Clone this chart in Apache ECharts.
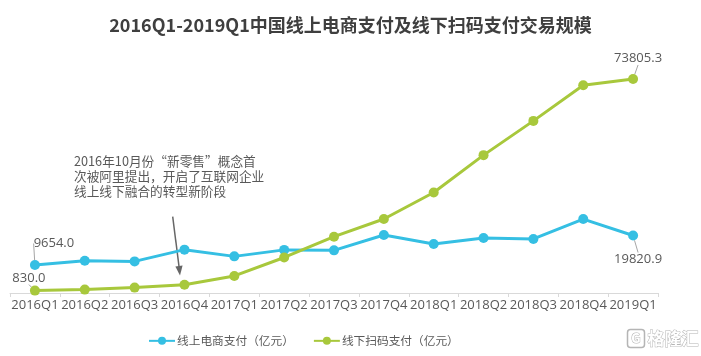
<!DOCTYPE html>
<html>
<head>
<meta charset="utf-8">
<script src="https://cdn.jsdelivr.net/npm/echarts@6/dist/echarts.min.js"></script>
<style>
html,body{margin:0;padding:0;background:#fff;}
#main{width:701px;height:356px;}
</style>
</head>
<body>
<div id="main"></div>
<script>
var categories = ['2016Q1','2016Q2','2016Q3','2016Q4','2017Q1','2017Q2','2017Q3','2017Q4','2018Q1','2018Q2','2018Q3','2018Q4','2019Q1'];
var onlineName = '线上电商支付（亿元）';
var offlineName = '线下扫码支付（亿元）';
var onlineValues = [9654.0, 11150, 10900, 14950, 12630, 14870, 14700, 20000, 16900, 18970, 18650, 25500, 19820.9];
var offlineValues = [830.0, 1170, 1860, 2820, 5890, 12250, 19420, 25510, 34660, 47540, 59350, 71640, 73805.3];
var titleText = '2016Q1-2019Q1中国线上电商支付及线下扫码支付交易规模';
var noteText = '2016年10月份“新零售”概念首\n次被阿里提出，开启了互联网企业\n线上线下融合的转型新阶段';

var BLUE = '#35bfe3';
var GREEN = '#a8c83c';
var TXT = '#595959';
var FONT = '"Noto Sans CJK SC", "Noto Sans", sans-serif';

function withEndLabels(arr, lastPos) {
  return arr.map(function (v, i) {
    if (i === 0 || i === arr.length - 1) {
      return { value: v, label: { show: true, position: i === arr.length - 1 ? lastPos : 'top' } };
    }
    return v;
  });
}

var chart = echarts.init(document.getElementById('main'), null, { renderer: 'canvas' });
chart.setOption({
  backgroundColor: '#fff',
  animation: false,
  textStyle: { fontFamily: FONT },
  title: {
    text: titleText,
    left: 'center',
    top: 11,
    textStyle: { fontSize: 18, fontWeight: 'bold', color: '#3f3f3f', fontFamily: FONT }
  },
  legend: {
    left: 143,
    top: 330,
    itemWidth: 26,
    itemHeight: 10,
    itemGap: 19,
    textStyle: { fontSize: 11.7, color: TXT, fontFamily: FONT, padding: [0, 0, 0, -3] },
    data: [onlineName, offlineName]
  },
  grid: { left: 10, right: 43, top: 61, bottom: 63 },
  xAxis: {
    type: 'category',
    data: categories,
    boundaryGap: true,
    axisLine: { lineStyle: { color: '#d9d9d9' } },
    axisTick: { show: true, length: 4, lineStyle: { color: '#d9d9d9' } },
    axisLabel: { color: TXT, fontSize: 13, margin: 6, interval: 0, fontFamily: '"Open Sans", sans-serif' }
  },
  yAxis: {
    type: 'value',
    min: 0,
    max: 80000,
    show: false,
    splitLine: { show: false }
  },
  series: [
    {
      name: onlineName,
      type: 'line',
      data: withEndLabels(onlineValues, 'bottom'),
      symbol: 'circle',
      symbolSize: 10,
      itemStyle: { color: BLUE },
      lineStyle: { color: BLUE, width: 3 },
      label: {
        show: false,
        color: TXT,
        fontSize: 13,
        fontFamily: '"Open Sans", sans-serif',
        formatter: function (p) { return p.value.toFixed(1); }
      },
      labelLine: { show: true, lineStyle: { color: '#a6a6a6', width: 1 } },
      labelLayout: function (p) {
        if (p.dataIndex === 0) return { dx: 19, dy: -5 };
        return { dx: 5, dy: 7 };
      }
    },
    {
      name: offlineName,
      type: 'line',
      data: withEndLabels(offlineValues, 'top'),
      symbol: 'circle',
      symbolSize: 10,
      itemStyle: { color: GREEN },
      lineStyle: { color: GREEN, width: 3 },
      label: {
        show: false,
        color: TXT,
        fontSize: 13,
        fontFamily: '"Open Sans", sans-serif',
        formatter: function (p) { return p.value.toFixed(1); }
      },
      labelLine: { show: true, lineStyle: { color: '#a6a6a6', width: 1 } },
      labelLayout: function (p) {
        if (p.dataIndex === 0) return { dx: -6, dy: 4 };
        return { dx: 5, dy: -4 };
      }
    }
  ],
  graphic: [
    {
      type: 'text',
      left: 74,
      top: 154,
      style: { text: noteText, fill: TXT, fontSize: 12.7, lineHeight: 15, fontFamily: FONT }
    },
    {
      type: 'line',
      shape: { x1: 172.7, y1: 216.7, x2: 179.2, y2: 268 },
      style: { stroke: '#666', lineWidth: 1.5 }
    },
    {
      type: 'polygon',
      shape: { points: [[180, 275.5], [182.6, 265.6], [175.4, 266.5]] },
      style: { fill: '#666' }
    },
    {
      type: 'group',
      left: 625,
      top: 327,
      children: [
        { type: 'rect', shape: { x: 0, y: 0, width: 17, height: 18, r: 3 }, style: { fill: 'none', stroke: '#b5b5b5', lineWidth: 1.5 } },
        { type: 'text', style: { x: 8.5, y: 9, text: 'G', align: 'center', verticalAlign: 'middle', fontSize: 13, fontWeight: 'bold', fill: '#fff', stroke: '#b5b5b5', lineWidth: 1, fontFamily: FONT } },
        { type: 'text', style: { x: 20, y: 9, text: '格隆汇', verticalAlign: 'middle', fontSize: 17, fontWeight: 'bold', fill: '#fff', stroke: '#b5b5b5', lineWidth: 1, fontFamily: FONT } }
      ]
    }
  ]
});
</script>
</body>
</html>
